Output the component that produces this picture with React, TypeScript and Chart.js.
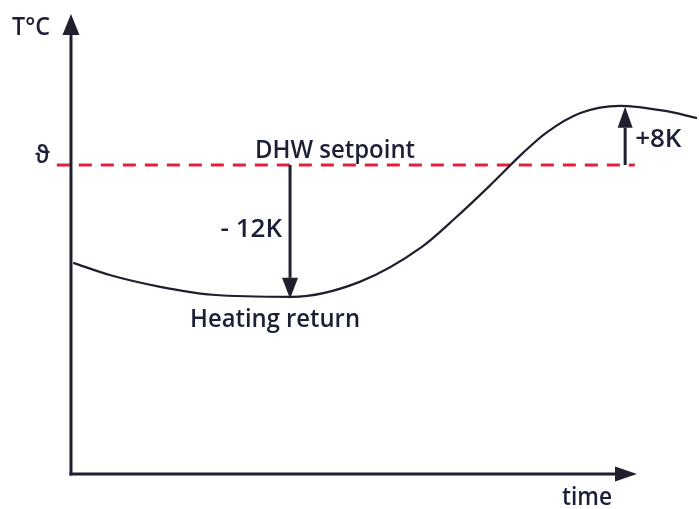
import React, { useEffect, useRef } from "react";
import { Chart, registerables } from "chart.js";

Chart.register(...registerables);

// Curve: heating return temperature over time (arbitrary units)
const times = [0.4, 7, 16, 25, 39, 51, 62, 68, 74, 80, 84, 90, 97, 105, 110.6];
const temps = [41.0, 38.6, 36.3, 34.8, 34.4, 37.3, 44.1, 49.8, 56.0, 62.5, 66.3, 70.1, 71.5, 70.5, 69.1];

// DHW setpoint (dashed line)
const setpoint = 60;
const setpointSpan = [-2.5, 99.6];

// Annotations
const dropX = 38.7;
const dropLabel = "- 12K";
const riseX = 97.9;
const riseLabel = "+8K";

const yAxisLabel = "T°C";
const setpointSymbol = "ϑ";
const setpointLabel = "DHW setpoint";
const curveLabel = "Heating return";
const xAxisLabel = "time";

const xAxisEnd = 100;
const yAxisEnd = 89.3;

const INK = "#1f1f2e";
const TEXT = "#1c1f38";
const RED = "#e3203b";
const FONT = "'Open Sans', Lato, sans-serif";

function arrow(ctx: CanvasRenderingContext2D, x1: number, y1: number, x2: number, y2: number, len: number, half: number) {
  const ang = Math.atan2(y2 - y1, x2 - x1);
  const bx = x2 - Math.cos(ang) * len;
  const by = y2 - Math.sin(ang) * len;
  ctx.beginPath();
  ctx.moveTo(x1, y1);
  ctx.lineTo(bx, by);
  ctx.stroke();
  ctx.beginPath();
  ctx.moveTo(x2, y2);
  ctx.lineTo(bx + Math.sin(ang) * half, by - Math.cos(ang) * half);
  ctx.lineTo(bx - Math.sin(ang) * half, by + Math.cos(ang) * half);
  ctx.closePath();
  ctx.fill();
}

const overlay = {
  id: "overlay",
  afterDatasetsDraw(chart: any) {
    const ctx: CanvasRenderingContext2D = chart.ctx;
    const xs = chart.scales.x;
    const ys = chart.scales.y;
    const X = (v: number) => xs.getPixelForValue(v);
    const Y = (v: number) => ys.getPixelForValue(v);
    ctx.save();
    ctx.strokeStyle = INK;
    ctx.fillStyle = INK;
    ctx.lineWidth = 3;
    ctx.lineCap = "butt";
    // axes
    arrow(ctx, X(0), Y(0) + 1.5, X(0), Y(yAxisEnd), 21, 8.5);
    arrow(ctx, X(0) - 1.5, Y(0), X(xAxisEnd), Y(0), 22, 7.5);
    // annotations
    const minT = Math.min(...temps);
    const maxT = Math.max(...temps);
    arrow(ctx, X(dropX), Y(setpoint), X(dropX), Y(minT) + 2, 21, 8);
    arrow(ctx, X(riseX), Y(setpoint), X(riseX), Y(maxT) + 1, 21, 7.5);

    ctx.fillStyle = TEXT;
    ctx.textBaseline = "alphabetic";
    ctx.font = `600 26px ${FONT}`;
    ctx.textAlign = "center";
    ctx.fillText(setpointLabel, X(dropX) + 45, Y(setpoint) - 7, 160);
    ctx.fillText(curveLabel, X(dropX) - 15, Y(minT) + 30, 170);
    ctx.textAlign = "right";
    ctx.fillText(dropLabel, X(dropX) - 8, Y((setpoint + minT) / 2) + 6, 62);
    ctx.textAlign = "left";
    ctx.fillText(riseLabel, X(riseX) + 10, Y((setpoint + maxT) / 2) + 12, 47);
    ctx.textAlign = "center";
    ctx.fillText(xAxisLabel, X(xAxisEnd) - 50, Y(0) + 31, 50);
    ctx.textAlign = "left";
    ctx.fillText(yAxisLabel, 12, 35, 38);
    ctx.textAlign = "right";
    ctx.fillText(setpointSymbol, X(0) - 21, Y(setpoint) - 2, 15);
    ctx.restore();
  },
};

export default function App() {
  const ref = useRef<HTMLCanvasElement | null>(null);
  useEffect(() => {
    if (!ref.current) return;
    const chart = new Chart(ref.current, {
      type: "line",
      data: {
        datasets: [
          {
            data: times.map((t, i) => ({ x: t, y: temps[i] })),
            borderColor: INK,
            borderWidth: 2.2,
            pointRadius: 0,
            cubicInterpolationMode: "monotone",
            fill: false,
          },
          {
            data: setpointSpan.map((t) => ({ x: t, y: setpoint })),
            borderColor: RED,
            borderWidth: 3,
            borderDash: [13, 9],
            pointRadius: 0,
            fill: false,
          },
        ],
      },
      options: {
        responsive: false,
        animation: false,
        devicePixelRatio: 1,
        layout: { padding: 0 },
        plugins: { legend: { display: false }, tooltip: { enabled: false }, title: { display: false } },
        scales: {
          x: { type: "linear", display: false, min: -12.54, max: 110.95 },
          y: { type: "linear", display: false, min: -6.8, max: 92.04 },
        },
      },
      plugins: [overlay],
    });
    return () => chart.destroy();
  }, []);
  return (
    <div style={{ position: "absolute", left: 0, top: 0, width: 699, height: 509, background: "#fff" }}>
      <canvas ref={ref} width={699} height={509} />
    </div>
  );
}
